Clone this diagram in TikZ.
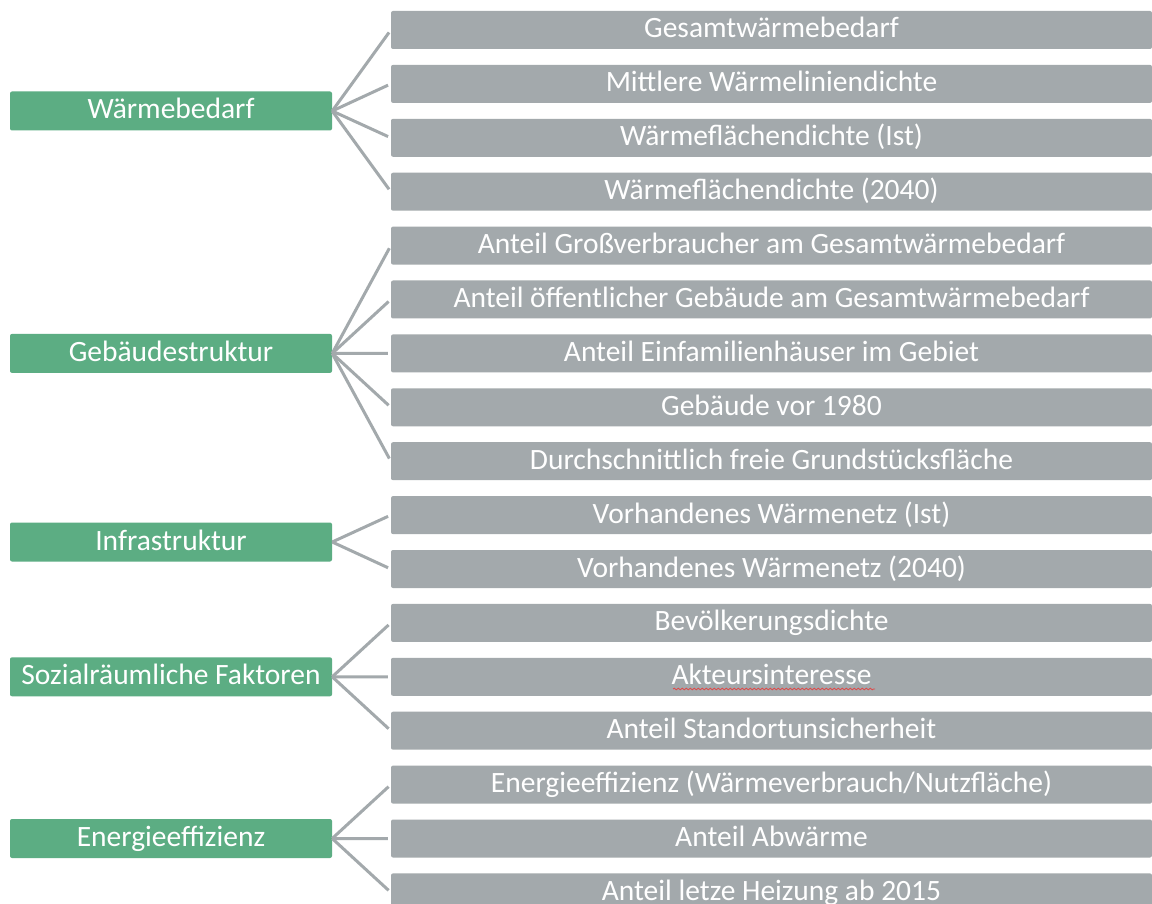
\documentclass[tikz,border=0pt]{standalone}
\usepackage{fontspec}
\setmainfont{Carlito}
\usetikzlibrary{decorations.pathmorphing}
\definecolor{Cat}{HTML}{5CAD83}
\definecolor{Item}{HTML}{A3A9AC}
\definecolor{Spell}{HTML}{E04848}

\tikzset{
  cat/.style={fill=Cat,text=white,rounded corners=2pt,minimum width=322,minimum height=39,
    inner sep=0pt,text height=20pt,text depth=4pt},
  item/.style={fill=Item,text=white,rounded corners=2pt,minimum width=761,minimum height=38,
    inner sep=0pt,text height=20pt,text depth=4pt},
  link/.style={draw=Item,line width=3pt,shorten >=3pt}
}

\begin{document}
\begin{tikzpicture}[x=1pt,y=-1pt,font=\fontsize{29.5}{35}\selectfont]
  \clip (0,0) rectangle (1152,904);
  \fill[white] (0,0) rectangle (1152,904);
  % right column
  \foreach \i/\txt in {
    0/Gesamtwärmebedarf,
    1/Mittlere Wärmeliniendichte,
    2/{Wärmeflächendichte (Ist)},
    3/{Wärmeflächendichte (2040)},
    4/Anteil Großverbraucher am Gesamtwärmebedarf,
    5/Anteil öffentlicher Gebäude am Gesamtwärmebedarf,
    6/Anteil Einfamilienhäuser im Gebiet,
    7/Gebäude vor 1980,
    8/Durchschnittlich freie Grundstücksfläche,
    9/{Vorhandenes Wärmenetz (Ist)},
    10/{Vorhandenes Wärmenetz (2040)},
    11/Bevölkerungsdichte,
    12/Akteursinteresse,
    13/Anteil Standortunsicherheit,
    14/{Energieeffizienz (Wärmeverbrauch/Nutzfläche)},
    15/Anteil Abwärme,
    16/Anteil letze Heizung ab 2015} {
    \node[item] (k\i) at (771.5,{30+53.9*\i}) {\txt};
  }
  % left column
  \node[cat] (waerme) at (171,111) {Wärmebedarf};
  \node[cat] (gebaeude) at (171,353.4) {Gebäudestruktur};
  \node[cat] (infra) at (171,542) {Infrastruktur};
  \node[cat] (sozial) at (171,676.8) {Sozialräumliche Faktoren};
  \node[cat] (energie) at (171,838.5) {Energieeffizienz};
  % connectors
  \foreach \g/\a/\b in {waerme/0/3,gebaeude/4/8,infra/9/10,sozial/11/13,energie/14/16} {
    \foreach \i in {\a,...,\b}
      \draw[link] (\g.east) -- (k\i.west);
  }
  % spell-check mark
  \draw[Spell,line width=0.8pt,decorate,decoration={snake,amplitude=0.8pt,segment length=4pt}]
    (673,689) -- (875,689);
\end{tikzpicture}
\end{document}
